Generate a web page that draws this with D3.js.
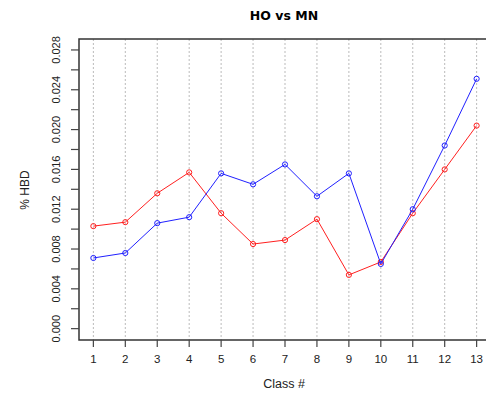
<!DOCTYPE html>
<html>
<head>
<meta charset="utf-8">
<script src="https://cdn.jsdelivr.net/npm/d3@7"></script>
<style>
  body { margin: 0; background: #fff; }
  text { font-family: "Liberation Sans", Arial, sans-serif; fill: #222; }
</style>
</head>
<body>
<svg id="chart" width="486" height="394"></svg>
<script>
// class numbers and the two series
var classes = [1, 2, 3, 4, 5, 6, 7, 8, 9, 10, 11, 12, 13];
var hoValues = [0.0103, 0.0107, 0.0136, 0.0157, 0.0116, 0.0085, 0.0089, 0.0110, 0.0054, 0.0067, 0.0116, 0.0160, 0.0204];
var mnValues = [0.0071, 0.0076, 0.0106, 0.0112, 0.0156, 0.0145, 0.0165, 0.0133, 0.0156, 0.0065, 0.0120, 0.0184, 0.0251];
var yLabelTicks = [0, 0.004, 0.008, 0.012, 0.016, 0.020, 0.024, 0.028];
var yMinorTicks = [0.002, 0.006, 0.010, 0.014, 0.018, 0.022, 0.026];

var svg = d3.select("#chart");
// plot area edges (the right one falls off the page, as in the original)
var plotLeft = 79, plotRight = 491, plotTop = 39, plotBottom = 340;

var x = d3.scaleLinear().domain([0.55, 13.45]).range([plotLeft, plotRight]);
var y = d3.scaleLinear().domain([-0.00114, 0.0291]).range([plotBottom, plotTop]);

// dotted vertical grid
svg.append("g").selectAll("line")
    .data(classes)
    .enter().append("line")
    .attr("x1", d => x(d)).attr("x2", d => x(d))
    .attr("y1", plotTop).attr("y2", plotBottom)
    .attr("stroke", "#bbb")
    .attr("stroke-dasharray", "2,2");

// box lines: top, left, bottom
svg.append("path")
    .attr("d", "M" + plotRight + "," + plotTop + "H" + plotLeft + "V" + plotBottom + "H" + plotRight)
    .attr("fill", "none")
    .attr("stroke", "#333")
    .attr("stroke-width", 1.5);

// y axis ticks and labels
var yAxis = svg.append("g");
yAxis.selectAll("line")
    .data(yLabelTicks.concat(yMinorTicks))
    .enter().append("line")
    .attr("x1", plotLeft - 8).attr("x2", plotLeft)
    .attr("y1", d => y(d)).attr("y2", d => y(d))
    .attr("stroke", "#444")
    .attr("stroke-width", 1.2);
yAxis.selectAll("text")
    .data(yLabelTicks)
    .enter().append("text")
    .attr("transform", d => "translate(60," + y(d) + ") rotate(-90)")
    .attr("text-anchor", "middle")
    .attr("font-size", 11)
    .text(d => d3.format(".3f")(d));

// x axis ticks and labels
var xAxis = svg.append("g");
xAxis.selectAll("line")
    .data(classes)
    .enter().append("line")
    .attr("x1", d => x(d)).attr("x2", d => x(d))
    .attr("y1", plotBottom).attr("y2", plotBottom + 7)
    .attr("stroke", "#444")
    .attr("stroke-width", 1.2);
xAxis.selectAll("text")
    .data(classes)
    .enter().append("text")
    .attr("x", d => x(d))
    .attr("y", 363)
    .attr("text-anchor", "middle")
    .attr("font-size", 11.5)
    .text(d => d);

// series
var line = d3.line()
    .x((d, i) => x(classes[i]))
    .y(d => y(d));

function drawSeries(values, color) {
    svg.append("path")
        .datum(values)
        .attr("d", line)
        .attr("fill", "none")
        .attr("stroke", color)
        .attr("stroke-width", 1);
    svg.append("g").selectAll("circle")
        .data(values)
        .enter().append("circle")
        .attr("cx", (d, i) => x(classes[i]))
        .attr("cy", d => y(d))
        .attr("r", 2.6)
        .attr("fill", "none")
        .attr("stroke", color)
        .attr("stroke-width", 1);
}
drawSeries(hoValues, "#ff2020");
drawSeries(mnValues, "#2020ff");

// titles
svg.append("text")
    .attr("x", 284).attr("y", 20)
    .attr("text-anchor", "middle")
    .attr("font-size", 12.5)
    .attr("font-weight", "bold")
    .style("font-family", "'DejaVu Sans', Verdana, sans-serif")
    .style("fill", "#000")
    .text("HO vs MN");

svg.append("text")
    .attr("x", 284).attr("y", 388)
    .attr("text-anchor", "middle")
    .attr("font-size", 12.5)
    .text("Class #");

svg.append("text")
    .attr("transform", "translate(29,190) rotate(-90)")
    .attr("text-anchor", "middle")
    .attr("font-size", 12)
    .text("% HBD");
</script>
</body>
</html>
